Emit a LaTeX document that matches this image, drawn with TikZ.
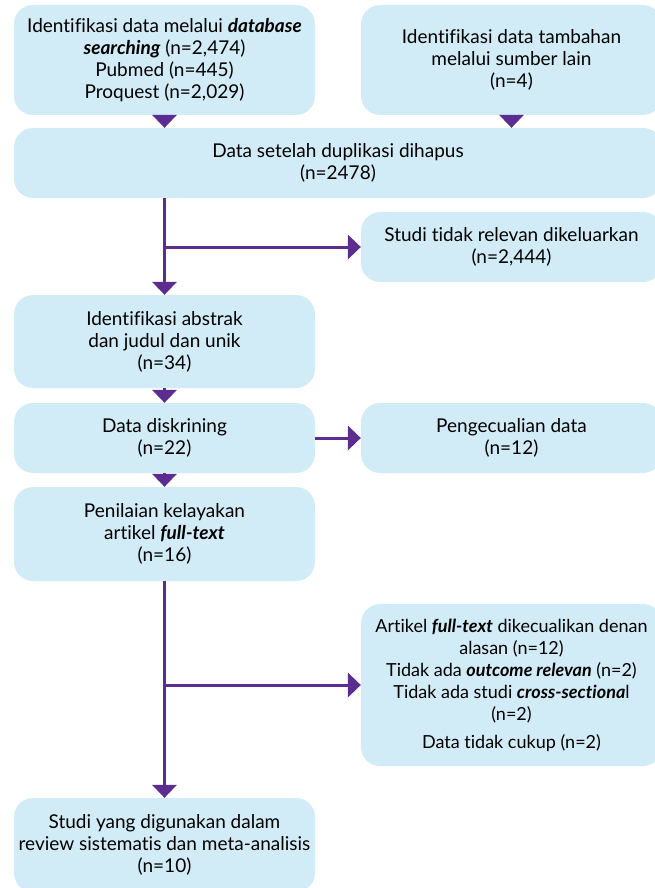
\documentclass[tikz,border=0pt]{standalone}
\usepackage{fontspec}
\setmainfont{Lato}[Ligatures=NoCommon]
\usepackage{tikz}
\usetikzlibrary{arrows.meta, positioning}

\definecolor{boxblue}{HTML}{D2ECF7}
\definecolor{flowpurple}{HTML}{5C2D91}
\newcommand{\emb}[1]{\textbf{\textit{#1}}}

\begin{document}
\begin{tikzpicture}[node distance=2cm,on grid,
    box/.style={fill=boxblue,rounded corners=19pt,align=center,inner sep=0pt,
        minimum width=301pt,font=\fontsize{19}{22}\selectfont},
    flow/.style={every edge/.style={draw=flowpurple,line width=3pt,
        -{Triangle[width=25pt,length=13pt,line width=0pt,fill=flowpurple]}}}]
    \useasboundingbox (0,0) rectangle (655pt,-888pt);

    \node[box,minimum height=110pt] (b1) at (164.5pt,-60pt)
        {Identifikasi data melalui \emb{database}\\ \emb{searching} (n=2,474)\\ Pubmed (n=445)\\ Proquest (n=2,029)};
    \node[box,minimum height=110pt] (b2) [right=347pt of b1]
        {Identifikasi data tambahan\\ melalui sumber lain\\ (n=4)};
    \node[box,minimum width=648pt,minimum height=70pt] (b3) [below right=103pt and 173.5pt of b1]
        {Data setelah duplikasi dihapus\\ (n=2478)};
    \node[box,minimum height=70pt] (b4) [below=187pt of b2]
        {Studi tidak relevan dikeluarkan\\ (n=2,444)};
    \node[box,minimum height=93pt] (b5) [below=281.5pt of b1]
        {Identifikasi abstrak\\ dan judul dan unik\\ (n=34)};
    \node[box,minimum height=70pt] (b6) [below=96.5pt of b5]
        {Data diskrining\\ (n=22)};
    \node[box,minimum height=70pt] (b7) [right=347pt of b6]
        {Pengecualian data\\ (n=12)};
    \node[box,minimum height=94pt] (b8) [below=96pt of b6]
        {Penilaian kelayakan\\ artikel \emb{full-text}\\ (n=16)};
    \node[box,minimum height=162pt,font=\fontsize{18}{22}\selectfont] (b9) [below=438pt of b4]
        {Artikel \emb{full-text} dikecualikan denan\\ alasan (n=12)\\
         Tidak ada \emb{outcome relevan} (n=2)\\ Tidak ada studi \emb{cross-sectiona}l\\ (n=2)\\[6pt]
         Data tidak cukup (n=2)};
    \node[box,minimum height=94pt] (b10) [below=311pt of b8]
        {Studi yang digunakan dalam\\ review sistematis dan meta-analisis\\ (n=10)};

    \path[flow]
    (b1.south) edge (b3.north -| b1.south)
    (b2.south) edge (b3.north -| b2.south)
    (b5.north |- b3.south) edge (b5.north)
    (b5.north |- b4.west) edge (b4.west)
    (b5.south) edge (b6.north)
    (b6.south) edge (b8.north)
    (b6.east) edge (b7.west)
    (b8.south) edge (b10.north)
    (b10.north |- b9.west) edge (b9.west);
\end{tikzpicture}
\end{document}
